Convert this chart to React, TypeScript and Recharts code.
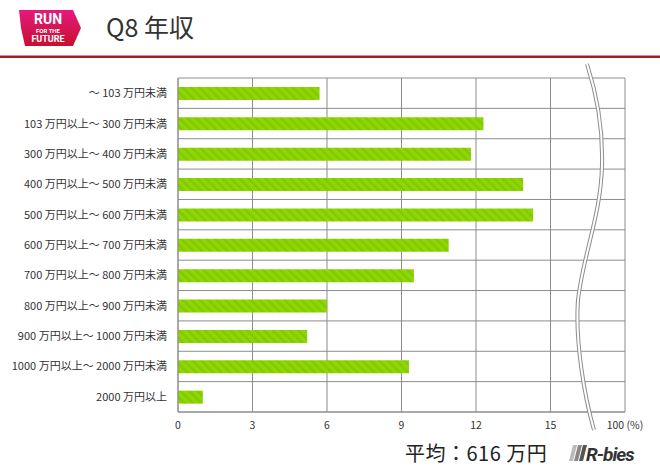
import { BarChart, Bar, XAxis, YAxis, CartesianGrid } from 'recharts';

const categories = [
  '〜 103 万円未満',
  '103 万円以上〜 300 万円未満',
  '300 万円以上〜 400 万円未満',
  '400 万円以上〜 500 万円未満',
  '500 万円以上〜 600 万円未満',
  '600 万円以上〜 700 万円未満',
  '700 万円以上〜 800 万円未満',
  '800 万円以上〜 900 万円未満',
  '900 万円以上〜 1000 万円未満',
  '1000 万円以上〜 2000 万円未満',
  '2000 万円以上',
];
const shares = [5.7, 12.3, 11.8, 13.9, 14.3, 10.9, 9.5, 6.0, 5.2, 9.3, 1.0];
const xTicks = [0, 3, 6, 9, 12, 15, 18];
const xTickLabels = ['0', '3', '6', '9', '12', '15', '100 (%)'];

const chartData = categories.map((name, i) => ({ name, value: shares[i] }));

const FONT = '"Noto Sans CJK JP", "Noto Sans", sans-serif';
const GRID = '#8c8c8c';

// grid rows sit on the category band edges, not the band centres
const rowLines = ({ offset }: any) =>
  Array.from({ length: categories.length + 1 }, (_, i) => offset.top + (i * offset.height) / categories.length);

// single-line label, recharts would otherwise wrap the long ones
const CategoryTick = ({ x, y, payload }: any) => (
  <text x={x} y={y} dy={4} textAnchor="end" fill="#333" fontSize={11} fontFamily={FONT}>
    {payload.value}
  </text>
);

const BREAK = 'M587,64 C597,95 603,130 602,165 C601,215 583,255 578,300 C575,340 584,395 594,430';

const Header = () => (
  <svg width={660} height={476} style={{ position: 'absolute', left: 0, top: 0, pointerEvents: 'none' }}>
    <defs>
      <linearGradient id="runGrad" x1="0" y1="0" x2="0" y2="1">
        <stop offset="0%" stopColor="#e5197e" />
        <stop offset="100%" stopColor="#c8102e" />
      </linearGradient>
    </defs>
    <polygon points="19,10 73,10 81,28 73,46 25,46 21,28" fill="url(#runGrad)" />
    <text x={48} y={24} textAnchor="middle" fill="#fff" fontFamily="Roboto, sans-serif" fontWeight={700} fontSize={14}>RUN</text>
    <text x={48} y={33} textAnchor="middle" fill="#fff" fontFamily="Roboto, sans-serif" fontWeight={700} fontSize={6}>FOR THE</text>
    <text x={48} y={42} textAnchor="middle" fill="#fff" fontFamily="Roboto, sans-serif" fontWeight={700} fontSize={9}>FUTURE</text>
    <text x={106} y={37} fill="#333" fontFamily={FONT} fontSize={25}>Q8 年収</text>
    <rect x={0} y={55.5} width={660} height={2.5} fill="#a51b1f" />

    {/* axis break */}
    <path d={BREAK} fill="none" stroke="#8c8c8c" strokeWidth={4} />
    <path d={BREAK} fill="none" stroke="#fff" strokeWidth={2} />

    <text x={405} y={461} fill="#222" fontFamily={FONT} fontSize={20} letterSpacing={0.5}>平均：616 万円</text>
    <polygon points="573,445 577,445 573,461 569,461" fill="#bbb" />
    <polygon points="578,445 582,445 578,461 574,461" fill="#888" />
    <polygon points="583,445 587,445 583,461 579,461" fill="#555" />
    <text x={586} y={461} fill="#333" fontFamily="Roboto, sans-serif" fontWeight={700} fontStyle="italic"
      fontSize={19} letterSpacing={-1}>R-bies</text>
  </svg>
);

export default function App() {
  return (
    <div style={{ position: 'absolute', left: 0, top: 0, width: 660, height: 476, background: '#fff', fontFamily: FONT }}>
      <svg width={0} height={0} style={{ position: 'absolute' }}>
        <defs>
          <pattern id="stripes" patternUnits="userSpaceOnUse" width={6} height={6} patternTransform="rotate(-45)">
            <rect width={6} height={6} fill="#8fd700" />
            <rect width={2.5} height={6} fill="#83c903" />
          </pattern>
        </defs>
      </svg>
      <BarChart
        width={660}
        height={476}
        data={chartData}
        layout="vertical"
        margin={{ top: 78, right: 35, bottom: 34, left: 0 }}
        style={{ position: 'absolute', left: 0, top: 0 }}
      >
        <CartesianGrid stroke={GRID} horizontalCoordinatesGenerator={rowLines} />
        <XAxis
          type="number"
          domain={[0, 18]}
          ticks={xTicks}
          tickFormatter={(v: number) => xTickLabels[xTicks.indexOf(v)]}
          height={30}
          axisLine={{ stroke: GRID }}
          tickLine={false}
          tickSize={0}
          tickMargin={10}
          tick={{ fill: '#333', fontSize: 10.5, fontFamily: FONT }}
          interval={0}
        />
        <YAxis
          type="category"
          dataKey="name"
          width={178}
          axisLine={{ stroke: GRID }}
          tickLine={false}
          tickSize={0}
          tickMargin={11}
          tick={<CategoryTick />}
          interval={0}
        />
        <Bar dataKey="value" fill="url(#stripes)" barSize={13} isAnimationActive={false} />
      </BarChart>
      <Header />
    </div>
  );
}
